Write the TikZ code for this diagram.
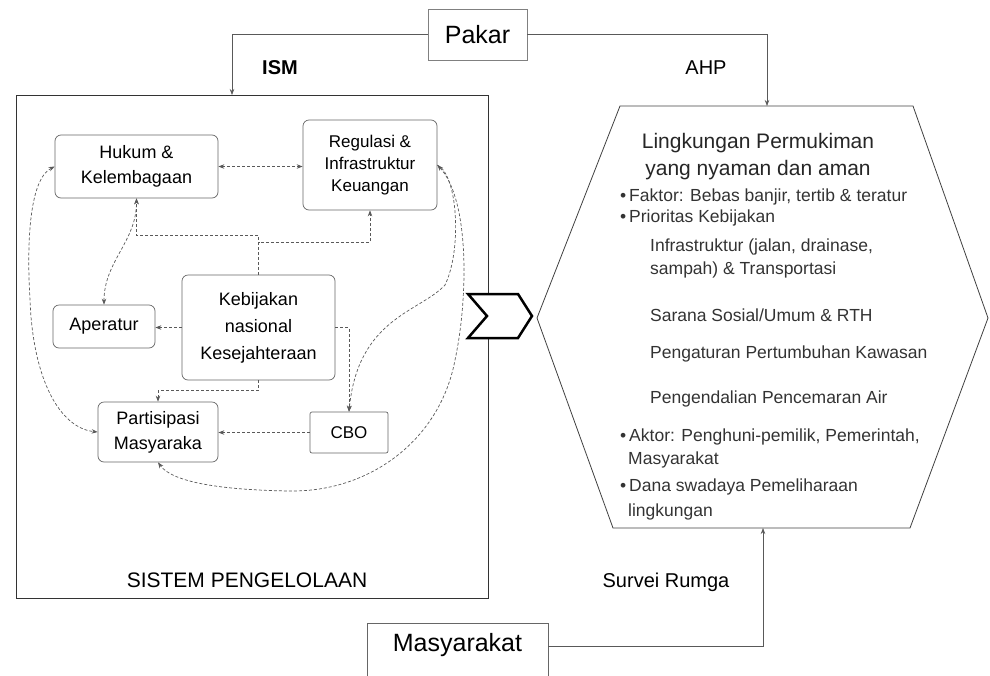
\documentclass[tikz,border=0pt]{standalone}
\usepackage{fontspec}
\setmainfont{Liberation Sans}
\usetikzlibrary{arrows.meta}
\begin{document}
\begin{tikzpicture}[x=1pt,y=-1pt,
  >={Stealth[length=6pt,width=4.5pt]},
  inbox/.style={draw=black!60, line width=0.7pt, rounded corners=6pt, align=center, inner sep=2pt,
    font=\fontsize{18}{25}\selectfont},
  conn/.style={draw=black!65, line width=0.7pt, densely dashed},
  outconn/.style={draw=black!65, line width=0.7pt},
  bodytext/.style={anchor=west, inner sep=0pt, font=\fontsize{17.5}{23}\selectfont, text=black!80},
  lbl/.style={inner sep=0pt, font=\fontsize{20}{24}\selectfont}]
\useasboundingbox (0,0) rectangle (990,675);

% main system box
\node[draw=black!80, line width=1pt, minimum width=472pt, minimum height=503pt, inner sep=0pt] (sys) at (252,346.5) {};
\node[lbl, font=\fontsize{21}{25}\selectfont] (sysl) at (247,580) {SISTEM PENGELOLAAN};

% inner nodes
\node[inbox, minimum width=163pt, minimum height=63pt] (hk) at (136.5,166.5) {Hukum \&\\Kelembagaan};
\node[inbox, minimum width=134pt, minimum height=90pt, font=\fontsize{17}{22}\selectfont] (rg) at (370,165) {Regulasi \&\\Infrastruktur\\Keuangan};
\node[inbox, minimum width=102pt, minimum height=43pt] (ap) at (104,326.5) {Aperatur};
\node[inbox, minimum width=153pt, minimum height=105pt, font=\fontsize{18}{27}\selectfont] (kb) at (258.5,327.5) {Kebijakan\\nasional\\Kesejahteraan};
\node[inbox, minimum width=120pt, minimum height=60pt] (pm) at (158,432) {Partisipasi\\Masyaraka};
\node[inbox, rounded corners=2pt, minimum width=78pt, minimum height=41pt, font=\fontsize{17}{22}\selectfont] (cbo) at (349,432.5) {CBO};

% inner connectors
\coordinate (j1) at (258.5,235);
\coordinate (j2) at (258.5,242);
\draw[conn,<->] (hk.east) -- (hk.east -| rg.west);
\draw[conn,->] (kb.north) -- (j1) -| (hk.south);
\draw[conn,->] (kb.north) -- (j2) -| (rg.south);
\draw[conn,<->] (ap.north) to[out=90,in=-90] (hk.south);
\draw[conn,->] (kb.west) -- (kb.west -| ap.east);
\draw[conn,->] (kb.south) -- ++(0,10) -| (pm.north);
\draw[conn,->] (kb.east) -| (cbo.north);
\draw[conn,->] (cbo.west) -- (cbo.west -| pm.east);
\draw[conn,<->] (hk.west) .. controls (28,180) and (27,250) .. (30,300) .. controls (33,380) and (60,428) .. (pm.west);
\draw[conn,->] (rg.east) .. controls (458,175) and (462,250) .. (445,285) .. controls (420,312) and (358,318) .. (cbo.north);
\draw[conn,<->] (rg.east) .. controls (470,200) and (468,300) .. (455,360) .. controls (440,440) and (370,492) .. (290,491) .. controls (220,490) and (172,482) .. (pm.south);

% hexagon
\draw[black!75, line width=0.8pt] (620,106) -- (913,106) -- (988,318) -- (910,528) -- (613,528) -- (537,318) -- cycle;
\coordinate (hxT) at (767,106);
\coordinate (hxB) at (763,528);

\node[align=center, inner sep=0pt, font=\fontsize{21}{27}\selectfont, text=black!85] (ttl) at (758,156.5) {Lingkungan Permukiman\\yang nyaman dan aman};
\node[bodytext] (t1) at (620,197) {•\,Faktor: Bebas banjir, tertib \& teratur};
\node[bodytext] (t2) at (620,218) {•\,Prioritas Kebijakan};
\node[bodytext] (t3) at (650,247) {Infrastruktur (jalan, drainase,};
\node[bodytext] (t4) at (650,270) {sampah) \& Transportasi};
\node[bodytext] (t5) at (650,315) {Sarana Sosial/Umum \& RTH};
\node[bodytext] (t6) at (650,354) {Pengaturan Pertumbuhan Kawasan};
\node[bodytext] (t7) at (650,399) {Pengendalian Pencemaran Air};
\node[bodytext] (t8) at (620,437) {•\,Aktor: Penghuni-pemilik, Pemerintah,};
\node[bodytext] (t9) at (628,460) {Masyarakat};
\node[bodytext] (t10) at (620,487) {•\,Dana swadaya Pemeliharaan};
\node[bodytext] (t11) at (628,512) {lingkungan};

% chevron
\draw[line width=2.5pt, fill=white, line join=miter] (468,294) -- (518,294) -- (532,316) -- (518,338) -- (468,338) -- (487,316) -- cycle;

% Pakar
\node[draw=black!50, line width=0.7pt, minimum width=99pt, minimum height=51pt, font=\fontsize{25}{30}\selectfont] (pk) at (477.5,34.5) {Pakar};
\coordinate (ismIn) at (232,95);
\draw[outconn,->] (pk.west) -| (ismIn);
\draw[outconn,->] (pk.east) -| (hxT);
\node[lbl, font=\bfseries\fontsize{20}{24}\selectfont] (ism) at (280,68) {ISM};
\node[lbl] (ahp) at (706,68) {AHP};

% Masyarakat
\node[draw=black!60, line width=0.7pt, anchor=north, minimum width=181pt, text height=18pt, text depth=45pt, inner ysep=10pt, font=\fontsize{25}{30}\selectfont] (ms) at (457.5,623) {Masyarakat};
\draw[outconn,->] ([yshift=5pt]ms.base east) -| (hxB);
\node[lbl] (srv) at (666,582) {Survei Rumga};
\end{tikzpicture}
\end{document}
